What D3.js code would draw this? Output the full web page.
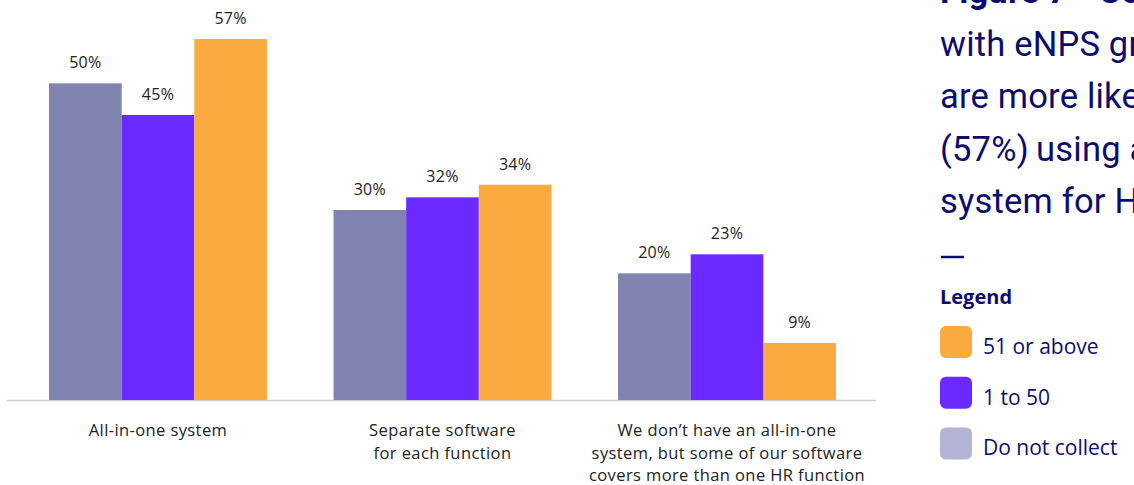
<!DOCTYPE html>
<html>
<head>
<meta charset="utf-8">
<script src="https://cdn.jsdelivr.net/npm/d3@7/dist/d3.min.js"></script>
<style>
  html, body { margin: 0; padding: 0; background: #fff; overflow: hidden; }
  svg { display: block; }
</style>
</head>
<body>
<svg id="chart" width="1134" height="485"></svg>
<script>
// HR software setup by eNPS group
const categories = [
  ["All-in-one system"],
  ["Separate software", "for each function"],
  ["We don\u2019t have an all-in-one", "system, but some of our software", "covers more than one HR function"]
];
const seriesNames = ["Do not collect", "1 to 50", "51 or above"];
const doNotCollect = [50, 30, 20];
const oneTo50 = [45, 32, 23];
const fiftyOnePlus = [57, 34, 9];
const seriesValues = [doNotCollect, oneTo50, fiftyOnePlus];
const barColors = ["#8183b0", "#6a29ff", "#f9ab40"];
const legendOrder = ["51 or above", "1 to 50", "Do not collect"];
const legendColors = ["#f9ab40", "#6a29ff", "#b3b3d3"];
const headingLines = ["Figure 7 \u2022 Companies", "with eNPS greater than 50", "are more likely", "(57%)\u2009using an all-in-one", "system for HR"];

const svg = d3.select("#chart");
const navy = "#0c0c6e";
const chartFont = "'Open Sans', 'Noto Sans', sans-serif";

const x0 = d3.scaleBand()
  .domain(d3.range(categories.length))
  .range([15.75, 869.25])
  .paddingInner(0.234)
  .paddingOuter(0.117);

const x1 = d3.scaleBand()
  .domain(seriesNames)
  .range([0, x0.bandwidth()]);

const y = d3.scaleLinear().domain([0, 60]).range([400, 20]);

// baseline
svg.append("line")
  .attr("x1", 7).attr("x2", 876)
  .attr("y1", y(0) + 0.5).attr("y2", y(0) + 0.5)
  .attr("stroke", "#d0d0d0").attr("stroke-width", 1.5);

const groups = svg.selectAll("g.group")
  .data(categories)
  .join("g")
  .attr("class", "group")
  .attr("transform", (d, i) => `translate(${x0(i)},0)`);

groups.selectAll("rect")
  .data((d, i) => seriesNames.map((s, j) => ({ s, j, v: seriesValues[j][i] })))
  .join("rect")
  .attr("x", d => x1(d.s))
  .attr("width", x1.bandwidth())
  .attr("y", d => y(d.v))
  .attr("height", d => y(0) - y(d.v))
  .attr("fill", d => barColors[d.j]);

groups.selectAll("text.val")
  .data((d, i) => seriesNames.map((s, j) => ({ s, j, v: seriesValues[j][i] })))
  .join("text")
  .attr("class", "val")
  .attr("x", d => x1(d.s) + x1.bandwidth() / 2)
  .attr("y", d => y(d.v) - 15)
  .attr("text-anchor", "middle")
  .attr("font-family", chartFont)
  .attr("font-size", 16)
  .attr("letter-spacing", 0.3)
  .attr("fill", "#222")
  .text(d => d.v + "%");

// category labels
groups.append("text")
  .attr("text-anchor", "middle")
  .attr("font-family", chartFont)
  .attr("font-size", 16.5)
  .attr("letter-spacing", 0.4)
  .attr("fill", "#222")
  .selectAll("tspan")
  .data(d => d)
  .join("tspan")
  .attr("x", x0.bandwidth() / 2)
  .attr("y", (d, k) => 436 + k * 22.5)
  .text(d => d);

// heading on the right
const heading = svg.append("g").attr("font-family", "'Roboto', 'Inter', sans-serif").attr("fill", navy);
heading.selectAll("text")
  .data(headingLines)
  .join("text")
  .attr("x", 940)
  .attr("y", (d, i) => 3 + i * 52.5)
  .attr("font-size", 34.5)
  .attr("letter-spacing", 0.2)
  .attr("font-weight", (d, i) => i === 0 ? 700 : 400)
  .text(d => d);

svg.append("line")
  .attr("x1", 941).attr("x2", 964)
  .attr("y1", 257).attr("y2", 257)
  .attr("stroke", navy).attr("stroke-width", 2.5);

// legend
svg.append("text")
  .attr("x", 940).attr("y", 304)
  .attr("font-family", chartFont)
  .attr("font-size", 20)
  .attr("font-weight", 700)
  .attr("fill", navy)
  .text("Legend");

const legend = svg.selectAll("g.legend")
  .data(legendOrder)
  .join("g")
  .attr("class", "legend")
  .attr("transform", (d, i) => `translate(940,${326 + i * 50.7})`);

legend.append("rect")
  .attr("width", 32).attr("height", 32)
  .attr("rx", 6).attr("ry", 6)
  .attr("fill", (d, i) => legendColors[i]);

legend.append("text")
  .attr("x", 43).attr("y", 28)
  .attr("font-family", chartFont)
  .attr("font-size", 21)
  .attr("fill", navy)
  .text(d => d);
</script>
</body>
</html>
